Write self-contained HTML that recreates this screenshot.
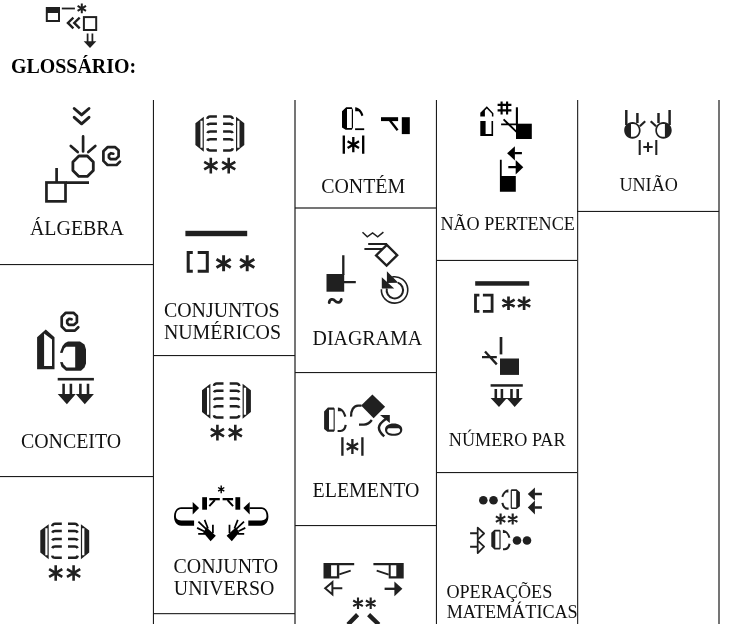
<!DOCTYPE html>
<html><head><meta charset="utf-8"><title>Glossário</title>
<style>
html,body{margin:0;padding:0;background:#fff;}
svg{display:block;filter:grayscale(1);}
text{font-family:"Liberation Serif",serif;fill:#111;}
.t12{font-size:19.9px;}
.t11{font-size:18.15px;}
.h{font-size:20.3px;font-weight:bold;fill:#000;}
.ln{fill:#1c1c1c;}
.k{fill:#202020;}
.s{fill:none;stroke:#202020;}
.bk .k{fill:#000;}.bk .s{stroke:#000;}
</style></head><body>
<svg width="733" height="624" viewBox="0 0 733 624">
<rect width="733" height="624" fill="#fff"/>
<defs><path id="spiral" d="M120 161.6L116.6 165H107.5L103.4 160.9V151.3L107.5 147.2H115.2L118.6 150.3V156.6L115.7 159.2H110.4L108.9 157.5V154.9L110.9 153.2L113.3 153.7"/><g id="setg">
<path class="k" fill-rule="evenodd" d="M203.8 116.8V151.8L195.4 145V123.2ZM200.4 120.8H202.6V147.8H200.4Z"/>
<path class="k" fill-rule="evenodd" d="M236 116.8V151.8L244.3 145V123.2ZM237.2 120.8H239.5V147.8H237.2Z"/>
<path class="s" stroke-width="2.5" d="M216.9 116.4H210.2Q207.7 116.4 207.3 118.9M216.9 123.7H210.2Q208.0 123.7 207.3 125.2M216.9 131.6H210.2Q208.0 131.6 207.3 133.0M216.9 139.2H210.2Q208.0 139.2 207.3 140.7M216.9 150.4H210.4Q207.7 150.4 207.3 148.2M223.1 116.4H229.9Q232.3 116.4 232.8 118.9M223.1 123.7H229.9Q232.1 123.7 232.8 125.2M223.1 131.6H229.9Q232.1 131.6 232.8 133.0M223.1 139.2H229.9Q232.1 139.2 232.8 140.7M223.1 150.4H229.6Q232.3 150.4 232.8 148.2"/>
<path class="s" stroke-width="2.6" d="M210.8 157.8V173.4M204.2 161.8L217.4 169.4M217.4 161.8L204.2 169.4M228.7 157.8V173.4M222.1 161.8L235.3 169.4M235.3 161.8L222.1 169.4"/>
</g><g id="univh" class="bk">
<path class="k" d="M192.8 507.2H181.2C176.5 507.2 174 511.5 174 516.5C174 521.5 176.5 525.7 181.5 525.7H194.1V520.5H182.5C178.5 520.5 175.9 519.5 175.9 516C175.9 511.5 178 509 181.5 509H192.8Z"/>
<path class="k" d="M192.7 501.9V514.5L199.1 508.1Z"/>
<rect class="k" x="202.2" y="497.2" width="4.8" height="12.5"/>
<rect class="k" x="209.3" y="498" width="10.5" height="2.3"/>
<path class="s" stroke-width="1.87" d="M214.9 500L209.3 506.2"/>
<path class="k" d="M206.4 527.2L215.8 535.8L210.6 541.3L203.2 532.4Z"/>
<path class="s" stroke-width="1.75" d="M198.4 521.6L206 528.8M204.6 519.9L208 528.5M212.9 524.7V533M197.1 527.9L204 531.3M198.2 533.9H205"/>
</g><g id="unih">
<path class="k" fill-rule="evenodd" d="M632.5 121.9C637.2 121.9 640.6 125.5 640.6 130.3C640.6 135.1 637.2 138.7 632.5 138.7C627.7 138.7 624.2 135.1 624.2 130.3C624.2 125.5 627.7 121.9 632.5 121.9ZM631 123.9V136.8H633.5C636.7 136.6 638.9 133.8 638.9 130.3C638.9 126.8 636.7 124.1 633.5 123.9Z"/>
<path class="s" stroke-width="2.46" d="M626.3 109.9V125M637.4 113V123"/>
<path class="s" stroke-width="2.22" d="M639.8 126.2L645.2 121.3"/>
</g></defs>
<!-- GRID -->
<g class="ln">
<rect x="152.9" y="100" width="1.1" height="524"/>
<rect x="294.4" y="100" width="1.2" height="524"/>
<rect x="435.9" y="100" width="1.1" height="524"/>
<rect x="577.1" y="100" width="1.1" height="524"/>
<rect x="718.4" y="100" width="1.2" height="524"/>
<rect x="0" y="264" width="153" height="1.1"/>
<rect x="0" y="476" width="153" height="1.1"/>
<rect x="153" y="355" width="142" height="1.1"/>
<rect x="153" y="613.1" width="142" height="1.1"/>
<rect x="295" y="207.4" width="141" height="1.2"/>
<rect x="295" y="372" width="141" height="1.1"/>
<rect x="295" y="525" width="141" height="1.1"/>
<rect x="436" y="259.9" width="141" height="1.1"/>
<rect x="436" y="472" width="141" height="1.1"/>
<rect x="577" y="210.9" width="142" height="1.1"/>
</g>
<!-- TEXT -->
<g id="txt">
<text class="h" x="10.9" y="73.3" textLength="125.2" lengthAdjust="spacingAndGlyphs">GLOSSÁRIO:</text>
<text class="t12" x="30.0" y="234.9">ÁLGEBRA</text>
<text class="t12" x="20.9" y="448.3">CONCEITO</text>
<text class="t12" x="163.9" y="317">CONJUNTOS</text>
<text class="t12" x="163.9" y="338.9">NUMÉRICOS</text>
<text class="t12" x="173.6" y="572.5">CONJUNTO</text>
<text class="t12" x="173.8" y="594.9">UNIVERSO</text>
<text class="t12" x="321.2" y="193.3">CONTÉM</text>
<text class="t12" x="312.6" y="345.4">DIAGRAMA</text>
<text class="t12" x="312.6" y="496.7">ELEMENTO</text>
<text class="t11" x="440.4" y="230.1">NÃO PERTENCE</text>
<text class="t11" x="448.8" y="445.8">NÚMERO PAR</text>
<text class="t11" x="446.4" y="597.7">OPERAÇÕES</text>
<text class="t11" x="446.7" y="617.7">MATEMÁTICAS</text>
<text class="t11" x="619.4" y="190.8">UNIÃO</text>
</g>
<!-- GLYPHS -->
<!-- header sign -->
<g id="g0">
<rect class="s" x="46.8" y="8" width="12.2" height="13" stroke-width="1.99"/>
<rect class="k" x="46" y="7.2" width="13.8" height="5.8"/>
<rect class="k" x="61.8" y="7.6" width="13.1" height="1.8"/>
<g class="s" stroke-width="1.99"><path d="M81.8 3.5V13.2M77.6 5.9L86 10.9M86 5.9L77.6 10.9"/></g>
<path class="s" stroke-width="2.34" d="M73.4 17.6L67.9 22.9L73.4 28.4M79.7 17.6L74.2 22.9L79.7 28.4"/>
<rect class="s" x="83.9" y="17.1" width="12.3" height="12.9" stroke-width="1.99"/>
<path class="s" stroke-width="1.75" d="M87.6 33.6V42M92.4 33.6V42"/>
<path class="k" d="M83.7 41.2H96.3L90 47.9Z"/>
</g>
<!-- algebra -->
<g id="g1">
<path class="s" stroke-width="2.9" stroke-linecap="round" stroke-linejoin="round" d="M74.2 108.5L81.6 114.9L89 108.5M74.2 117.3L81.6 123.8L89 117.3"/>
<path class="s" stroke-width="2.69" d="M83.1 136.4V151.4M70.8 146L77.7 152.1M95.3 146L88.3 152.1" stroke-linecap="round"/>
<polygon class="s" stroke-width="2.81" stroke-linejoin="round" points="93.3,170.4 87.3,176.4 78.9,176.4 72.9,170.4 72.9,162.0 78.9,156.0 87.3,156.0 93.3,162.0"/>
<path class="s" stroke-width="2.7" stroke-linejoin="round" stroke-linecap="round" d="M120 161.6L116.6 165H107.5L103.4 160.9V151.3L107.5 147.2H115.2L118.6 150.3V156.6L115.7 159.2H110.4L108.9 157.5V154.9L110.9 153.2L113.3 153.7"/>
<rect class="s" x="46.45" y="182.5" width="19.05" height="18.85" stroke-width="2.7"/>
<path class="s" stroke-width="2.7" d="M56.6 168V182M66 182.6H89"/>
</g>
<!-- conceito -->
<g id="g2">
<use href="#spiral" class="s" stroke-width="2.7" stroke-linejoin="round" stroke-linecap="round" transform="translate(-41.7 165.6)"/>
<path class="k" fill-rule="evenodd" d="M37.1 369.2V337.3L45.75 329.5L54.5 337.3V369.2ZM44.1 333.6L52 339.6V365.9H44.1Z"/>
<path class="k" fill-rule="evenodd" d="M68 341.4H80L84.5 344.5L86 349.6V363.5L84.5 367.5L81 370.8H66L61.5 366.8L60.2 362.5V352L62.5 346L65 343ZM66.2 346.7H75.2V367.6H66.6L63.6 364.6L62.7 362V352.4L64.2 348.6Z"/>
<rect x="59" y="352.9" width="5.5" height="9.2" fill="#fff"/>
<rect class="k" x="57.7" y="377.9" width="36.2" height="2.6"/>
<path class="s" stroke-width="2.57" d="M63.6 383.7V395M70.9 383.7V395M80.4 383.7V395M88 383.7V395"/>
<path class="k" d="M57.7 394.1H75.8L66.9 404.3ZM75.8 394.1H93.9L84.8 404.3Z"/>
</g>
<!-- set sign x3 -->
<use href="#setg"/>
<use href="#setg" transform="translate(-155.1 407.4)"/>
<use href="#setg" transform="translate(6.6 267)"/>
<!-- conj numericos 2 -->
<g id="g4">
<rect class="k" x="185.4" y="230.8" width="61.8" height="5.4"/>
<path class="s" stroke-width="3.04" d="M192.8 252.6H188.2V271.3H192.8M197.7 252.6H207.3V271.3H197.7"/>
<path class="s" stroke-width="2.92" d="M223.6 255.3V271.3M216.5 259.2L230.7 267.4M230.7 259.2L216.5 267.4M247.2 255.3V271.3M240.1 259.2L254.3 267.4M254.3 259.2L240.1 267.4"/>
</g>
<!-- conj universo 2 -->
<g id="g5" class="bk">
<path class="s" stroke-width="1.40" d="M221.2 485.4V493.2M218.1 487.5L224.3 491.1M224.3 487.5L218.1 491.1"/>
<use href="#univh"/>
<use href="#univh" transform="translate(442.4 0) scale(-1 1)"/>
</g>
<!-- contem -->
<g id="g6" class="bk">
<path class="k" fill-rule="evenodd" d="M342 111.2L346.2 107.2H351.8L353 110V127.5L351.8 129.7H345.7L342 127.5ZM347 109H351.8V128H347Z"/>
<path class="k" d="M355.2 107.3C359 107.6 362 110.5 363.4 115.2L361.5 116.2C360.6 113.5 359.6 111.9 358.6 111.2H355.2Z"/>
<rect class="k" x="355.1" y="128.3" width="9.1" height="1.8"/>
<path class="s" stroke-width="2.34" d="M343.8 135.6V153.8M363.2 135.6V153.8"/>
<path class="s" stroke-width="2.34" d="M353.3 136.9V152.3M347.6 141.3L359.0 147.9M359.0 141.3L347.6 147.9"/>
<rect class="k" x="401.8" y="117.2" width="8" height="16.9"/>
<rect class="k" x="381" y="117.2" width="17.1" height="3.9"/>
<path class="s" stroke-width="2.34" d="M390 120.5L397.6 130.2"/>
</g>
<!-- diagrama -->
<g id="g7">
<path class="s" stroke-width="1.52" d="M362.5 232.2L367.3 236.8L372.6 232.9L377.7 236.8L383.4 232.2"/>
<path class="s" stroke-width="2.34" stroke-linejoin="miter" d="M386.8 244.8L397.2 255.2L386.6 265.5L376.1 255.4Z"/>
<path class="s" stroke-width="1.99" d="M368.2 244.1H387M364.4 248.9H382.6"/>
<rect class="k" x="326.5" y="274" width="17.7" height="17.7"/>
<path class="s" stroke-width="2.34" d="M343.3 255.3V275M344 282.2H355.8"/>
<path class="s" stroke-width="2.81" stroke-linejoin="round" stroke-linecap="round" d="M329.2 302.6C329.6 298.6 333.2 298.6 335 300.8C336.8 303 340.6 303.2 341.3 299.4"/>
<path class="s" stroke-width="1.6" d="M392.3 276.9A13.2 13.2 0 1 1 381.4 289.2"/>
<path class="s" stroke-width="2" d="M397.9 282.6A8.2 8.2 0 1 1 386.8 288.5"/>
<path class="k" d="M386.9 271.3V283L398.3 282.7ZM381.8 277.2V288.5H394.2Z"/>
</g>
<!-- elemento -->
<g id="g8">
<path class="k" fill-rule="evenodd" d="M324.1 411.4L327.9 407.4H333.9L334.7 408.8V430.5L333.9 431.7H327.5L324.1 429ZM329 409.7H333.6V429.4H329Z"/>
<path class="k" d="M337.9 407.4C342 407.8 344.8 411 346.4 416.2L344.3 416.9C343.4 414 342.4 412 341.4 411.2H337.9Z"/>
<path class="s" stroke-width="2.22" d="M345.7 424.9C345.2 428.5 343.5 430.9 340.5 431H337.6"/>
<path class="s" stroke-width="2.34" d="M351.1 416.6C350.8 410.5 353.5 405.9 358 405.7H361.5M359 424.7H364C367.5 424.5 370 422.5 371.8 420"/>
<path class="k" d="M372.4 394.6L385.1 406.8L373.6 418.3L361.1 405.6Z"/>
<path class="k" d="M380 415H389.8V422.9Z"/>
<path class="s" stroke-width="2.46" d="M385.8 419C381.5 422 379 424.5 378.9 427.5C378.8 430.5 381 433.5 384.2 436.4"/>
<path class="k" fill-rule="evenodd" d="M385 429.7C385 426 388.5 423.6 393.6 423.6C398.8 423.6 402.3 426 402.3 429.7C402.3 433.4 398.8 435.8 393.6 435.8C388.5 435.8 385 433.4 385 429.7ZM387.2 430.5C387.2 432.6 390 433.8 393.6 433.8C397.3 433.8 400.1 432.6 400.1 430.5C400.1 429.3 399.5 428.6 398.5 428.3H388.8C387.8 428.6 387.2 429.3 387.2 430.5Z"/>
<path class="s" stroke-width="2.34" d="M342.4 437.3V455.7M362.4 437.3V455.7"/>
<path class="s" stroke-width="2.34" d="M352.4 439.0V454.0M346.7 443.2L358.1 449.8M358.1 443.2L346.7 449.8"/>
</g>
<!-- col3 bottom -->
<g id="g9">
<path class="k" fill-rule="evenodd" d="M323.5 562.9H354.2V565.2H339.3V578.5H323.5ZM331.1 565.2H336.9V576.2H331.1Z"/>
<path class="s" stroke-width="1.75" d="M339.3 574.3L350.7 570.6"/>
<path class="k" fill-rule="evenodd" d="M403.7 562.9H373.4V565.2H388.7V578.5H403.7ZM396.3 565.2H390.7V576.2H396.3Z"/>
<path class="s" stroke-width="1.75" d="M388.7 574.6L376.7 570.6"/>
<path class="s" stroke-width="1.99" stroke-linejoin="miter" d="M325.2 588.2L332.4 582.2V594.4ZM332.5 588.2H342.3" />
<path class="s" stroke-width="2.34" d="M384.6 588.8H395"/>
<path class="k" d="M394.4 581.6L402.4 588.8L394.4 596.3Z"/>
<path class="s" stroke-width="2.11" d="M358.0 597.6V609.0M353.2 600.5L362.8 606.1M362.8 600.5L353.2 606.1M370.7 597.6V609.0M365.9 600.5L375.5 606.1M375.5 600.5L365.9 606.1"/>
<path class="s" stroke-width="4.4" d="M357.6 614.6L348 624.5M368.6 614.6L378.8 624.5"/>
</g>
<!-- nao pertence -->
<g id="g10" class="bk">
<path class="k" d="M486.8 106.2L480.3 112.8V116.6H484.9V110.6L486.8 108.6L491.9 113.8V116.6H493.4V113.2Z"/>
<path class="k" d="M480.3 120.9H485.6V133.9H491.5V120.9H493.1V136H480.3Z"/>
<path class="s" stroke-width="2.11" d="M497.6 104.9H511.4M497.6 110.4H511.4M501.6 101.4V114.4M507.1 101.4V114.4"/>
<rect class="k" x="516" y="123.7" width="15.8" height="15.3"/>
<path class="s" stroke-width="2.11" d="M516.9 107.3V124.5"/>
<path class="s" stroke-width="1.87" d="M501.1 124.4H516.5M503.6 119.4L516.8 132.2"/>
<path class="k" d="M507.1 153.3L514.9 146.2V160.4Z"/>
<path class="s" stroke-width="2.34" d="M514.5 153.1H521.9M508.3 167.2H516"/>
<path class="k" d="M515.7 160V174.6L523.3 167.2Z"/>
<path class="k" d="M499.9 159.7H501.7V176H515.8V191.7H499.9Z"/>
</g>
<!-- numero par -->
<g id="g11">
<rect class="k" x="475.2" y="281.2" width="54" height="4.5"/>
<path class="s" stroke-width="2.81" d="M479.4 295.2H475.5V311.3H479.4M482.9 295.2H492.1V311.3H482.9"/>
<path class="s" stroke-width="2.69" d="M508.5 296.4V310.0M502.4 299.7L514.6 306.7M514.6 299.7L502.4 306.7M524.1 296.4V310.0M518.0 299.7L530.2 306.7M530.2 299.7L518.0 306.7"/>
<path class="s" stroke-width="2.69" d="M501 337V354.4"/>
<rect class="k" x="500" y="358.5" width="19" height="16.4"/>
<path class="s" stroke-width="2.34" d="M482 357.2H496.8M485 351.5L496.8 364.4"/>
<rect class="k" x="490.6" y="384.2" width="32.2" height="2.5"/>
<path class="s" stroke-width="2.57" d="M495.8 389V399M501.9 389V399M511.5 389V399M517.7 389V399"/>
<path class="k" d="M490.6 397.9H506.9L499 407ZM506.5 397.9H522.8L514.7 407Z"/>
</g>
<!-- operacoes -->
<g id="g12">
<circle class="k" cx="483.3" cy="500.3" r="4.3"/><circle class="k" cx="493.5" cy="500.3" r="4.3"/>
<path class="k" d="M508.4 489.2C505 489.8 502.6 492.5 501.4 496.6L503.2 497.2C504 494.8 505 493.2 506 492.4H508.4Z"/>
<path class="s" stroke-width="2.11" d="M502.4 502.9C503 506 505 508.4 507.2 508.6H508.6"/>
<path class="k" fill-rule="evenodd" d="M510.7 490.3L511.6 489.3H516.6L519.9 492.3V506.3L516.6 509.1H511.6L510.7 508.1ZM511.9 491.1H516.2V507.5H511.9Z"/>
<path class="k" d="M527.8 494.1L534.9 487.4V500.8ZM527.8 507.4L534.9 500.6V514.4Z"/>
<path class="s" stroke-width="2.46" d="M534.5 494.1H541.9M534.5 507.4H541.9"/>
<path class="s" stroke-width="2.11" d="M500.6 513.6V524.6M495.9 516.4L505.3 521.8M505.3 516.4L495.9 521.8M512.7 513.6V524.6M508.0 516.4L517.4 521.8M517.4 516.4L508.0 521.8"/>
<path class="s" stroke-width="1.87" d="M470.1 533.3H477.6M470.1 546.7H477.6"/>
<path class="s" stroke-width="1.75" stroke-linejoin="round" d="M477.7 527.6L484.1 533.5L477.7 539.6ZM477.7 540.6L484.1 546.7L477.7 553.1Z"/>
<path class="k" fill-rule="evenodd" d="M500.6 530.7L499.8 529.7H494.5L491.3 532.7V546.6L494.5 549.5H499.8L500.6 548.5ZM499.4 531.5H495.3V547.8H499.4Z"/>
<path class="k" d="M502.9 529.8C506.5 530.2 509 533 510.4 537.4L508.5 538.1C507.7 535.5 506.8 533.9 505.8 533.1H502.9Z"/>
<path class="s" stroke-width="2.11" d="M509.6 543.7C509 546.8 507 549.1 504.6 549.3H503"/>
<circle class="k" cx="517" cy="540.5" r="4.3"/><circle class="k" cx="527" cy="540.5" r="4.3"/>
</g>
<!-- uniao -->
<g id="g13">
<use href="#unih"/>
<use href="#unih" transform="translate(1295.9 0) scale(-1 1)"/>
<path class="s" stroke-width="2.05" d="M639.7 140.1V155M656.3 140.1V155M643.3 146.9H652.7M648 142.2V151.9"/>
</g>
</svg>
</body></html>
